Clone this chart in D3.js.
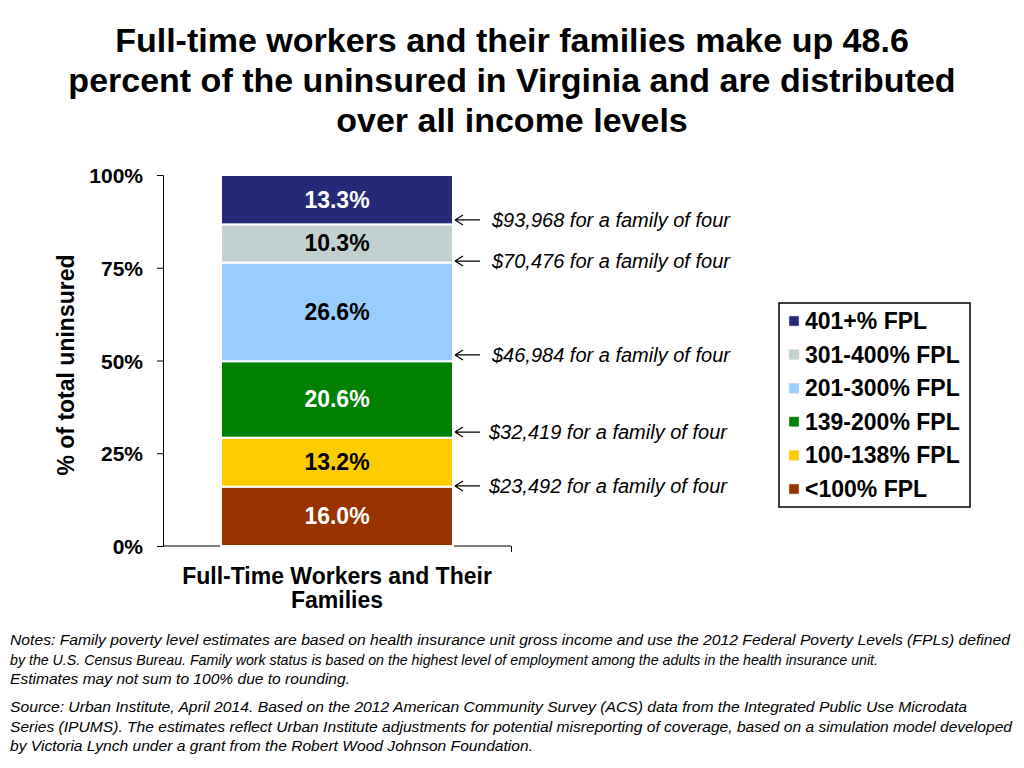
<!DOCTYPE html>
<html>
<head>
<meta charset="utf-8">
<script src="https://cdn.jsdelivr.net/npm/d3@7"></script>
<style>
  body { margin: 0; background: #fff; }
  svg text { font-family: Arial, "Liberation Sans", sans-serif; }
</style>
</head>
<body>
<svg width="1024" height="768"></svg>
<script>
var categories = ["<100% FPL", "100-138% FPL", "139-200% FPL", "201-300% FPL", "301-400% FPL", "401+% FPL"];
var values = [16.0, 13.2, 20.6, 26.6, 10.3, 13.3];
var colors = ["#993300", "#FFCC00", "#008000", "#99CCFF", "#C2D0D0", "#262878"];
var labelColors = ["#fff", "#000", "#fff", "#000", "#000", "#fff"];
var yTicks = [0, 25, 50, 75, 100];
var notes = ["$23,492 for a family of four", "$32,419 for a family of four", "$46,984 for a family of four",
             "$70,476 for a family of four", "$93,968 for a family of four"];
var notePos = [16.2, 30.7, 51.5, 76.8, 87.9];
var barName = ["Full-Time Workers and Their", "Families"];

var svg = d3.select("svg");

// title
var title = ["Full-time workers and their families make up 48.6",
             "percent of the uninsured in Virginia and are distributed",
             "over all income levels"];
svg.selectAll(".title").data(title).enter().append("text")
  .attr("x", 512).attr("y", function(d, i) { return 52 + i * 40; })
  .attr("text-anchor", "middle")
  .style("font-size", "34px").style("font-weight", "bold")
  .text(function(d) { return d; });

var yScale = d3.scaleLinear().domain([0, 100]).range([546, 175]);

// y axis
var yAxis = d3.axisLeft(yScale).tickValues(yTicks).tickSize(6).tickFormat(function(d) { return d + "%"; });
var gy = svg.append("g").attr("transform", "translate(163,0)").call(yAxis);
gy.select(".domain").attr("stroke", "#000");
gy.selectAll(".tick line").attr("stroke", "#000");
gy.selectAll(".tick text").attr("x", -20).attr("dy", "0.36em")
  .style("font-size", "21px").style("font-weight", "bold").style("font-family", "Arial, 'Liberation Sans', sans-serif");

// x axis line
var gx = svg.append("g").attr("transform", "translate(0,546)")
  .call(d3.axisBottom(d3.scaleLinear().domain([0, 1]).range([163, 511])).tickValues([1]).tickSize(6).tickFormat(""));
gx.select(".domain").attr("stroke", "#000").attr("d", "M163,0H511");
gx.selectAll(".tick line").attr("stroke", "#000");

svg.append("text")
  .attr("transform", "translate(74,365) rotate(-90)")
  .attr("text-anchor", "middle")
  .style("font-size", "23px").style("font-weight", "bold")
  .text("% of total uninsured");

// stacked segments
var cum = [];
var acc = 0;
values.forEach(function(v) { cum.push([acc, acc + v]); acc += v; });
var bx = 221, bw = 232;

svg.selectAll(".seg").data(cum).enter().append("rect")
  .attr("x", bx).attr("width", bw)
  .attr("y", function(d) { return yScale(d[1]); })
  .attr("height", function(d) { return yScale(d[0]) - yScale(d[1]); })
  .attr("fill", function(d, i) { return colors[i]; })
  .attr("stroke", "#fff").attr("stroke-width", 2);

svg.selectAll(".seglabel").data(cum).enter().append("text")
  .attr("x", bx + bw / 2)
  .attr("y", function(d) { return (yScale(d[0]) + yScale(d[1])) / 2 + 8; })
  .attr("text-anchor", "middle")
  .attr("fill", function(d, i) { return labelColors[i]; })
  .style("font-size", "23px").style("font-weight", "bold")
  .text(function(d, i) { return values[i].toFixed(1) + "%"; });

svg.selectAll(".xname").data(barName).enter().append("text")
  .attr("x", 337).attr("y", function(d, i) { return 584 + i * 24; })
  .attr("text-anchor", "middle")
  .style("font-size", "23px").style("font-weight", "bold")
  .text(function(d) { return d; });

// annotations
var ann = svg.selectAll(".ann").data(notes).enter().append("g")
  .attr("transform", function(d, i) { return "translate(0," + yScale(notePos[i]) + ")"; });
ann.append("path")
  .attr("d", "M455,0H480M455,0l8,-5M455,0l8,5")
  .attr("stroke", "#000").attr("stroke-width", 1.2).attr("fill", "none");
ann.append("text")
  .attr("x", function(d, i) { return i < 2 ? 489 : 492; }).attr("y", 7)
  .style("font-size", "20px").style("font-style", "italic")
  .text(function(d) { return d; });

// legend
svg.append("rect").attr("x", 779).attr("y", 303).attr("width", 191).attr("height", 204)
  .attr("fill", "#fff").attr("stroke", "#000").attr("stroke-width", 1.5);
var legOrder = d3.range(categories.length).reverse();
var leg = svg.selectAll(".leg").data(legOrder).enter().append("g")
  .attr("transform", function(d, i) { return "translate(789," + (321 + i * 33.6) + ")"; });
leg.append("rect").attr("x", 0).attr("y", -5).attr("width", 10).attr("height", 10)
  .attr("fill", function(d) { return colors[d]; }).attr("stroke", "#ddd").attr("stroke-width", 0.5);
leg.append("text").attr("x", 16).attr("y", 8)
  .style("font-size", "23px").style("font-weight", "bold")
  .text(function(d) { return categories[d]; });

// notes
var noteLines = [
  ["Notes: Family poverty level estimates are based on health insurance unit gross income and use the 2012 Federal Poverty Levels (FPLs)  defined", 1000],
  ["by the U.S. Census Bureau. Family work status is based on the highest level of employment among the adults in the health insurance unit.", 868],
  ["Estimates may not sum to 100% due to rounding.", 340]
];
var srcLines = [
  ["Source: Urban Institute, April 2014. Based on the 2012 American Community Survey (ACS) data from the Integrated Public Use Microdata", 957],
  ["Series (IPUMS). The estimates reflect Urban Institute adjustments for potential misreporting of coverage, based on a simulation model developed", 1002],
  ["by Victoria Lynch under a grant from the Robert Wood Johnson Foundation.", 523]
];
function drawLines(lines, y0) {
  svg.append("g").selectAll("text").data(lines).enter().append("text")
    .attr("x", 10).attr("y", function(d, i) { return y0 + i * 19.5; })
    .attr("textLength", function(d) { return d[1]; })
    .attr("lengthAdjust", "spacingAndGlyphs")
    .style("font-size", "15px").style("font-style", "italic")
    .text(function(d) { return d[0]; });
}
drawLines(noteLines, 645);
drawLines(srcLines, 712);
</script>
</body>
</html>
